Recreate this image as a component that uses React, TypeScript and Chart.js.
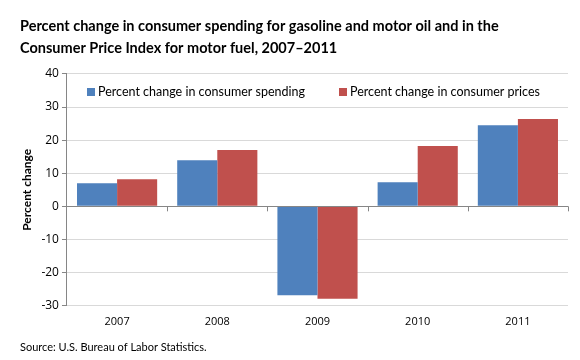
import React, { useEffect, useRef } from "react";
import { Chart, registerables } from "chart.js";

Chart.register(...registerables);

const categories = ["2007", "2008", "2009", "2010", "2011"];
const spendingChange = [7.0, 13.9, -26.9, 7.3, 24.5];
const priceChange = [8.2, 17.0, -27.9, 18.2, 26.4];
const seriesLabels = ["Percent change in consumer spending", "Percent change in consumer prices"];
const titleLines = [
  "Percent change in consumer spending for gasoline and motor oil and in the",
  "Consumer Price Index for motor fuel, 2007\u20132011",
];
const sourceText = "Source: U.S. Bureau of Labor Statistics.";
const yAxisTitle = "Percent change";

const zeroTicks = {
  id: "zeroTicks",
  afterDatasetsDraw(chart: any) {
    const x = chart.scales.x;
    const y = chart.scales.y;
    const ctx = chart.ctx;
    const y0 = y.getPixelForValue(0);
    ctx.save();
    ctx.strokeStyle = "#868686";
    ctx.lineWidth = 1;
    ctx.beginPath();
    ctx.moveTo(x.left, Math.round(y0) + 0.5);
    ctx.lineTo(x.right, Math.round(y0) + 0.5);
    for (let i = 1; i <= categories.length; i++) {
      const px = Math.round(x.getPixelForValue(i - 0.5)) + 0.5;
      ctx.moveTo(px, y0);
      ctx.lineTo(px, y0 + 5);
    }
    ctx.stroke();
    ctx.restore();
  },
};

const innerLegend = {
  id: "innerLegend",
  afterDraw(chart: any) {
    const ctx = chart.ctx;
    const area = chart.chartArea;
    const box = 8;
    const gapText = 3;
    const gapItem = 34;
    ctx.save();
    ctx.font = "12.5px Lato";
    ctx.textBaseline = "middle";
    const items = chart.data.datasets.map((d: any) => ({
      label: d.label,
      color: d.backgroundColor,
      w: ctx.measureText(d.label).width,
    }));
    let x = area.left + 20;
    const cy = area.top + 18;
    items.forEach((it: any) => {
      ctx.fillStyle = it.color;
      ctx.fillRect(Math.round(x), Math.round(cy - box / 2), box, box);
      ctx.fillStyle = "#000";
      ctx.fillText(it.label, x + box + gapText, cy + 0.5);
      x += box + gapText + it.w + gapItem;
    });
    ctx.restore();
  },
};

export default function App() {
  const ref = useRef<HTMLCanvasElement>(null);
  useEffect(() => {
    const chart = new Chart(ref.current!, {
      type: "bar",
      data: {
        labels: categories,
        datasets: [
          { label: seriesLabels[0], data: spendingChange, backgroundColor: "#4f81bd", barPercentage: 1, categoryPercentage: 0.8 },
          { label: seriesLabels[1], data: priceChange, backgroundColor: "#c0504d", barPercentage: 1, categoryPercentage: 0.8 },
        ],
      },
      options: {
        animation: false,
        responsive: false,
        maintainAspectRatio: false,
        layout: { padding: { left: 20, right: 12, top: 10, bottom: 4 } },
        plugins: {
          title: {
            display: true,
            text: titleLines,
            align: "start",
            color: "#000",
            font: { family: "Lato", size: 14.5, weight: "bold", lineHeight: 1.55 },
            padding: { top: 5, bottom: 14 },
          },
          subtitle: {
            display: true,
            text: sourceText,
            position: "bottom",
            align: "start",
            color: "#000",
            font: { family: "Lato", size: 11 },
            padding: { top: 2, bottom: 2 },
          },
          legend: { display: false },
          tooltip: { enabled: false },
        },
        scales: {
          x: {
            grid: { display: false, drawTicks: false },
            border: { display: false },
            ticks: { color: "#000", font: { family: "Open Sans", size: 11 }, padding: 10 },
          },
          y: {
            min: -30,
            max: 40,
            ticks: { stepSize: 10, color: "#000", font: { family: "Open Sans", size: 12 }, padding: 3 },
            grid: {
              color: (c: any) => (c.tick && c.tick.value === 0 ? "#868686" : "#d9d9d9"),
              tickColor: "#868686",
              tickLength: 5,
            },
            border: { color: "#868686" },
            title: {
              display: true,
              text: yAxisTitle,
              color: "#000",
              font: { family: "Lato", size: 12, weight: "bold" },
              padding: { top: 0, bottom: 4 },
            },
          },
        },
      },
      plugins: [zeroTicks, innerLegend],
    } as any);
    return () => chart.destroy();
  }, []);
  return (
    <div style={{ position: "fixed", left: 0, top: 0, width: 580, height: 360, background: "#fff" }}>
      <canvas ref={ref} width={580} height={360} />
    </div>
  );
}
